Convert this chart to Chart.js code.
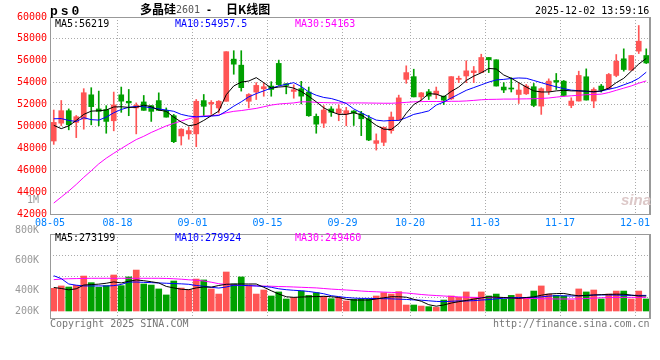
<!DOCTYPE html>
<html>
<head>
<meta charset="utf-8">
<script src="https://cdn.jsdelivr.net/npm/chart.js@4.4.1/dist/chart.umd.min.js"></script>
<style>
  body { margin: 0; background: #fff; }
  #wrap { position: relative; width: 660px; height: 360px; overflow: hidden; font-family: "DejaVu Sans Mono", monospace; font-size: 10px; }
  canvas { position: absolute; left: 0; }
  #cPrice { top: 0; }
  #cVol { top: 190px; }
  .t { position: absolute; white-space: nowrap; line-height: 10px; }
</style>
</head>
<body>
<div id="wrap">
  <canvas id="cPrice" width="660" height="230"></canvas>
  <canvas id="cVol" width="660" height="150"></canvas>

  <span class="t" style="left:50px;top:5px;font:bold 13px 'Liberation Mono';letter-spacing:3px;line-height:13px">ps0</span>
  <span class="t" style="left:140px;top:2px;font:bold 12px 'Noto Sans CJK SC';line-height:13px">多晶硅</span>
  <span class="t" style="left:176px;top:5px;color:#555">2601</span>
  <span class="t" style="left:206px;top:5px;font-weight:bold">-</span>
  <span class="t" style="left:226px;top:2px;font:bold 12px 'Noto Sans CJK SC';line-height:13px">日K线图</span>
  <span class="t" style="left:535px;top:6px">2025-12-02 13:59:16</span>

  <span class="t" style="left:55px;top:19px;color:#000">MA5:56219</span>
  <span class="t" style="left:175px;top:19px;color:#00f">MA10:54957.5</span>
  <span class="t" style="left:295px;top:19px;color:#f0f">MA30:54163</span>

  <span class="t" style="left:55px;top:233px;color:#000">MA5:273199</span>
  <span class="t" style="left:175px;top:233px;color:#00f">MA10:279924</span>
  <span class="t" style="left:295px;top:233px;color:#f0f">MA30:249460</span>

  <span class="t" style="left:621px;top:192px;font:italic bold 15px 'Liberation Sans';color:#dcc8c8;line-height:15px">sina</span>

  <span class="t" style="left:50px;top:319px;color:#777">Copyright 2025 SINA.COM</span>
  <span class="t" style="left:493px;top:319px;color:#777">http://finance.sina.com.cn</span>
</div>

<script>
const dates = [
  '08-05','08-06','08-07','08-08','08-11','08-12','08-13','08-14','08-15',
  '08-18','08-19','08-20','08-21','08-22','08-25','08-26','08-27','08-28','08-29',
  '09-01','09-02','09-03','09-04','09-05','09-08','09-09','09-10','09-11','09-12',
  '09-15','09-16','09-17','09-18','09-19','09-22','09-23','09-24','09-25','09-26',
  '09-29','09-30','10-09','10-10','10-13','10-14','10-15','10-16','10-17',
  '10-20','10-21','10-22','10-23','10-24','10-27','10-28','10-29','10-30','10-31',
  '11-03','11-04','11-05','11-06','11-07','11-10','11-11','11-12','11-13','11-14',
  '11-17','11-18','11-19','11-20','11-21','11-24','11-25','11-26','11-27','11-28',
  '12-01','12-02'
];
const xTickDates = ['08-05','08-18','09-01','09-15','09-29','10-20','11-03','11-17','12-01'];

const open = [48670,50300,51440,50370,50670,52890,51600,51540,50520,52890,
  52300,51690,52240,51900,52360,51470,50980,49130,49320,49320,
  52360,52060,51690,52300,56150,55600,52300,53140,53440,53690,
  55760,53900,53200,53450,53140,50920,50300,51600,51200,51140,
  51410,51170,50700,48450,48550,49620,50610,54300,54550,52700,
  53170,52920,52770,52520,54300,54610,54920,54920,56300,56090,
  53600,53480,52920,52980,53630,51860,53230,54200,54140,51920,
  52320,54540,52320,53690,53440,54660,56180,55140,56880,56480];
const high = [51500,52370,51600,51000,53450,53540,53230,51900,53140,53600,
  53380,52150,52830,51900,53070,51690,51100,49800,49930,52460,
  52920,52360,52360,56830,56920,56920,53000,54000,54000,54090,
  56060,53900,53800,54120,53600,51140,51900,51810,51970,51750,
  51450,51380,51000,49320,49930,51320,52860,55540,55230,53100,
  53380,53600,52770,54550,54600,56000,55480,56600,56300,56090,
  54000,54450,54000,53840,53930,53540,54350,54840,54200,52620,
  55050,55260,53530,53840,54840,56570,57090,56480,59220,57090];
const low = [48360,50060,49690,48980,49750,50150,50060,49380,49600,51290,
  50980,49320,51470,50460,51470,50850,48520,48300,48830,48150,
  50980,51100,51230,52300,54770,53230,51690,52460,52760,52760,
  53750,52980,52580,52060,50920,49380,49900,50920,50520,50060,
  50090,49160,48700,47840,48240,49380,50550,53940,52700,52400,
  52460,52550,52000,52460,54000,54000,54000,54920,54920,53690,
  53090,53150,52100,52920,51800,51100,52920,53380,52770,51710,
  52320,52410,51710,53140,53380,54540,55050,55140,56660,55750];
const close = [50370,51440,50150,50890,53080,51810,51380,50460,51970,52310,
  52150,51940,51470,51380,51470,50850,48610,49750,49620,52300,
  51840,52200,52300,56830,55690,53540,52920,53750,53630,53380,
  53820,53750,53350,52770,50980,50210,51500,51290,51600,51440,
  51230,50700,48760,48700,49930,50860,52610,54920,52700,53070,
  52770,53230,52400,54550,54400,55080,55080,56300,56090,53690,
  53330,53420,53330,53690,51920,53450,54140,54050,52830,52320,
  54660,52410,53380,53320,54750,55960,55200,56480,57790,55800];

const ma5 = [50100,49800,50050,50550,51100,51400,51430,51500,51780,51800,
  51740,51750,51950,51800,51500,51380,50850,50400,50060,50180,
  50550,50980,51400,52900,53700,54050,54150,54460,54000,53500,
  53600,53650,53500,53200,52750,52250,51700,51350,51100,51100,
  51260,51050,50600,50100,49750,49720,50250,51200,52000,52400,
  53000,52950,52700,53200,53600,54200,54600,54900,55300,55250,
  54700,54400,54000,53600,53250,53150,53150,53250,53300,53250,
  53250,53230,53180,53250,53500,54000,54400,55050,55700,56219];
const ma10 = [50700,50720,50550,50450,50800,50620,50580,50850,51250,51550,
  51750,51830,51800,51700,51600,51500,51380,51100,50950,50880,
  50900,50950,51000,51400,51850,52250,52700,53000,53250,53500,
  53700,53850,54000,53650,53150,52850,52650,52550,52350,52100,
  51600,51250,50900,50580,50500,50550,50550,50800,51100,51250,
  51420,51950,52230,52600,52950,53300,53550,53800,54050,54250,
  54300,54380,54430,54400,54200,54000,53800,53620,53450,53320,
  53260,53200,53150,53230,53400,53550,53800,54050,54400,54957.5];
const ma30 = [43000,43550,44100,44700,45350,45950,46580,47100,47550,47980,
  48400,48800,49100,49450,49750,50050,50280,50500,50700,50880,
  50960,50980,51050,51250,51380,51450,51550,51650,51800,51950,
  52050,52100,52150,52250,52250,52200,52180,52160,52150,52150,
  52150,52150,52140,52130,52120,52120,52150,52200,52250,52270,
  52280,52280,52280,52300,52300,52330,52380,52440,52470,52480,
  52500,52500,52510,52520,52530,52560,52600,52680,52750,52800,
  52850,52900,52920,52950,53100,53300,53500,53700,53950,54163];

// volume, in thousands
const volume = [411,427,420,431,493,449,418,429,500,429,
  487,533,440,433,407,367,460,413,402,473,
  467,407,373,520,440,487,433,373,400,360,
  387,340,349,393,364,382,358,342,351,327,
  338,340,340,360,382,373,389,300,300,293,
  289,284,333,360,351,387,351,387,360,373,
  338,364,373,351,393,427,373,364,360,333,
  407,387,400,340,373,393,393,340,393,340];
const volMa5 = [417,410,401,408,433,436,439,445,454,447,
  458,467,462,455,447,424,414,405,402,414,
  420,419,430,438,440,440,440,440,418,395,
  373,355,351,353,355,356,358,355,350,338,
  333,333,333,340,348,355,355,352,338,325,
  302,292,300,313,322,330,339,347,354,352,
  350,347,344,350,354,365,373,376,377,368,
  361,364,367,369,371,372,372,366,360,360];
const volMa10 = [495,476,440,432,427,427,427,427,429,437,
  453,453,451,449,447,445,443,441,438,430,
  425,418,413,420,432,431,429,427,424,418,
  408,402,398,395,390,383,375,362,356,350,
  346,344,344,343,342,341,339,337,334,332,
  328,324,322,325,327,327,329,333,336,341,
  345,348,350,350,351,354,359,362,361,360,
  361,363,366,367,367,366,365,364,364,364];
const volMa30 = [469,473,475,476,477,478,478,478,478,478,
  478,478,478,478,478,477,475,472,468,465,
  460,452,442,437,433,431,429,427,426,425,
  423,422,420,418,416,414,410,406,403,400,
  397,393,390,388,386,384,382,380,375,370,
  366,363,360,357,354,352,351,350,349,349,
  348,347,345,344,343,342,341,340,340,340,
  341,343,346,348,349,350,351,351,351,351];

const priceTicks = [42000,44000,46000,48000,50000,52000,54000,56000,58000,60000];
const volTickValues = [1000,800,600,400,200];
const volTickLabels = ['1M','800K','600K','400K','200K'];
const volBase = 260;

const UP = '#ff5555', DOWN = '#00a000';
const MONO = '"DejaVu Sans Mono", monospace';
const candleColors = close.map((c, i) => c >= open[i] ? UP : DOWN);

const gridColor = c => (c.tick && xTickDates.includes(dates[c.index])) ? '#aaa' : 'rgba(0,0,0,0)';

const framePlugin = {
  id: 'frame',
  afterDraw(chart) {
    const { ctx, chartArea: a } = chart;
    ctx.save();
    ctx.strokeStyle = '#999';
    ctx.lineWidth = 1;
    ctx.strokeRect(a.left + 0.5, a.top + 0.5, a.right - a.left - 1, a.bottom - a.top);
    ctx.lineWidth = 2;
    ctx.beginPath();
    ctx.moveTo(a.right, a.top);
    ctx.lineTo(a.right, a.bottom + 1);
    ctx.stroke();
    ctx.restore();
  }
};

// sina splits the volume pane in even rows, not at the tick values
const paneGrid = {
  id: 'paneGrid',
  beforeDatasetsDraw(chart, args, opts) {
    if (!opts.rows) return;
    const { ctx, chartArea: a } = chart;
    ctx.save();
    ctx.strokeStyle = '#aaa';
    ctx.lineWidth = 1;
    ctx.setLineDash([1, 2]);
    for (let k = 1; k < opts.rows; k++) {
      const y = Math.round(a.top + k * (a.bottom - a.top) / opts.rows) + 0.5;
      ctx.beginPath();
      ctx.moveTo(a.left, y);
      ctx.lineTo(a.right, y);
      ctx.stroke();
    }
    ctx.restore();
  }
};

const lineDs = (data, color, order) => ({
  type: 'line', data, borderColor: color, borderWidth: 1,
  pointRadius: 0, tension: 0, fill: false, order
});

const xAxis = (showLabels) => ({
  offset: true,
  grid: { offset: true, color: gridColor, drawTicks: false, lineWidth: 1 },
  border: { display: false, dash: [1, 2] },
  ticks: {
    display: showLabels, autoSkip: false, maxRotation: 0, minRotation: 0,
    color: '#0080ff', font: { family: MONO, size: 10 }, padding: 3, labelOffset: -3.75,
    callback: (v, i) => xTickDates.includes(dates[i]) ? dates[i] : ''
  },
  afterFit: s => { s.height = showLabels ? 16 : 0; }
});

new Chart(document.getElementById('cPrice'), {
  type: 'bar',
  data: {
    labels: dates,
    datasets: [
      lineDs(ma5, '#000', 0),
      lineDs(ma10, '#0000ff', 1),
      lineDs(ma30, '#ff00ff', 2),
      {
        data: open.map((o, i) => [o, close[i]]),
        backgroundColor: candleColors, borderWidth: 0,
        barThickness: 5, minBarLength: 1, grouped: false, order: 3
      },
      {
        data: low.map((l, i) => [l, high[i]]),
        backgroundColor: candleColors, borderWidth: 0,
        barThickness: 1, grouped: false, order: 4
      }
    ]
  },
  options: {
    responsive: false,
    animation: false,
    layout: { padding: { top: 17, right: 10, left: 0, bottom: 0 } },
    plugins: { legend: { display: false }, tooltip: { enabled: false } },
    scales: {
      x: xAxis(true),
      y: {
        min: 42000, max: 60000,
        afterBuildTicks: s => { s.ticks = priceTicks.map(v => ({ value: v })); },
        ticks: { color: '#ff0000', font: { family: MONO, size: 10 }, padding: 3, callback: v => String(v) },
        grid: { color: '#aaa', drawTicks: false },
        border: { display: false, dash: [1, 2] },
        afterFit: s => { s.width = 50; }
      }
    }
  },
  plugins: [framePlugin]
});

new Chart(document.getElementById('cVol'), {
  type: 'bar',
  data: {
    labels: dates,
    datasets: [
      lineDs(volMa5, '#000', 0),
      lineDs(volMa10, '#0000ff', 1),
      lineDs(volMa30, '#ff00ff', 2),
      {
        data: volume, base: volBase,
        backgroundColor: candleColors, borderWidth: 0,
        barThickness: 6, grouped: false, order: 3
      }
    ]
  },
  options: {
    responsive: false,
    animation: false,
    layout: { padding: { top: 44, right: 10, left: 0, bottom: 22 } },
    plugins: { legend: { display: false }, tooltip: { enabled: false }, paneGrid: { rows: 4 } },
    scales: {
      x: xAxis(false),
      y: {
        min: 213.3, max: 773.3,
        // labels below the pane are pinned to the bar base, as on sina
        afterBuildTicks: s => { s.ticks = volTickValues.map(v => ({ value: Math.max(v, volBase) })); },
        ticks: { color: '#999', font: { family: MONO, size: 10 }, padding: 3, callback: (v, i) => volTickLabels[i] },
        grid: { display: false },
        border: { display: false },
        afterFit: s => { s.width = 50; }
      }
    }
  },
  plugins: [paneGrid, framePlugin]
});
</script>
</body>
</html>
